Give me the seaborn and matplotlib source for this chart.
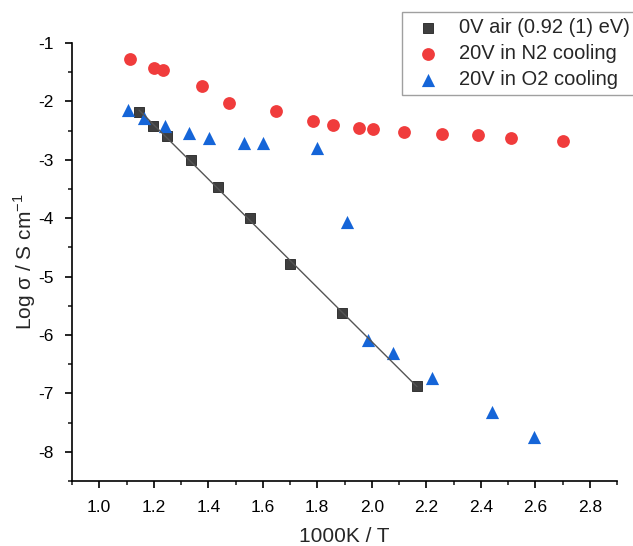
import numpy as np
import pandas as pd
import matplotlib
matplotlib.use('Agg')
import matplotlib.pyplot as plt
import seaborn as sns
from matplotlib.ticker import MultipleLocator

# Данные
air_x = [1.146, 1.197, 1.249, 1.336, 1.436, 1.553, 1.700, 1.890, 2.166]
air_y = [-2.18, -2.42, -2.59, -3.01, -3.47, -4.00, -4.78, -5.62, -6.87]

n2_x = [1.113, 1.200, 1.234, 1.377, 1.476, 1.649, 1.783, 1.858, 1.953, 2.005,
        2.118, 2.256, 2.390, 2.510, 2.700]
n2_y = [-1.27, -1.43, -1.46, -1.73, -2.03, -2.17, -2.34, -2.40, -2.45, -2.47,
        -2.52, -2.55, -2.58, -2.62, -2.67]

o2_x = [1.105, 1.164, 1.240, 1.329, 1.403, 1.531, 1.600, 1.800, 1.910, 1.986,
        2.078, 2.221, 2.440, 2.595]
o2_y = [-2.14, -2.29, -2.42, -2.54, -2.62, -2.71, -2.71, -2.79, -4.07, -6.09,
        -6.31, -6.74, -7.32, -7.75]

labels = ["0V air (0.92 (1) eV)", "20V in N2 cooling", "20V in O2 cooling"]

sns.set_style('ticks')
plt.rcParams['font.family'] = ['Liberation Sans', 'DejaVu Sans']
plt.rcParams['mathtext.fontset'] = 'custom'
plt.rcParams['mathtext.rm'] = 'Liberation Sans'

fig = plt.figure(figsize=(6.33, 5.46), dpi=100)
ax = fig.add_axes([72 / 633, 65 / 546, 545 / 633, 438 / 546])

air = pd.DataFrame({'x': air_x, 'y': air_y})
n2 = pd.DataFrame({'x': n2_x, 'y': n2_y})
o2 = pd.DataFrame({'x': o2_x, 'y': o2_y})

sns.scatterplot(data=air, x='x', y='y', ax=ax, marker='s', s=50, color='#3f3f3f',
                edgecolor='#222222', linewidth=0.6, label=labels[0], zorder=3)
sns.scatterplot(data=n2, x='x', y='y', ax=ax, marker='o', s=85, color='#f03c3c',
                edgecolor='#f03c3c', linewidth=0, label=labels[1], zorder=3)
sns.scatterplot(data=o2, x='x', y='y', ax=ax, marker='^', s=90, color='#1565d8',
                edgecolor='#1565d8', linewidth=0, label=labels[2], zorder=3)

# Линейная аппроксимация (Аррениус)
sns.regplot(data=air, x='x', y='y', ax=ax, scatter=False, ci=None, truncate=True,
            line_kws={'color': '#555555', 'lw': 1.0, 'zorder': 4})

ax.set_xlim(0.9, 2.9)
ax.set_ylim(-8.5, -1)
ax.xaxis.set_minor_locator(MultipleLocator(0.1))
ax.yaxis.set_minor_locator(MultipleLocator(0.5))
xt = np.arange(1.0, 2.81, 0.2)
yt = np.arange(-8, -0.9, 1)
ax.set_xticks(xt)
ax.set_xticklabels([f'{v:.1f}' for v in xt])
ax.set_yticks(yt)
ax.set_yticklabels([f'{int(v)}' for v in yt])

ax.tick_params(which='major', direction='out', length=5, width=1.2, labelsize=12.5,
               colors='black')
ax.tick_params(axis='x', which='major', pad=9)
ax.tick_params(axis='y', which='major', pad=8)
ax.tick_params(which='minor', direction='out', length=3, width=1.2)
for side in ['top', 'right']:
    ax.spines[side].set_visible(False)
for side in ['left', 'bottom']:
    ax.spines[side].set_linewidth(1.2)
    ax.spines[side].set_color('black')

ax.set_xlabel('1000K / T', fontsize=15, labelpad=8)
ax.set_ylabel('Log σ / S cm$^{-1}$', fontsize=15, labelpad=0)

leg = ax.legend(loc='upper left', bbox_to_anchor=(402 / 633, 1 - 12 / 546),
                bbox_transform=fig.transFigure, fontsize=14.5, frameon=True,
                fancybox=False, edgecolor='#888888', handletextpad=0.55,
                borderpad=0.3, labelspacing=0.35, handlelength=2.0,
                borderaxespad=0)
leg.get_frame().set_linewidth(1.0)

fig.savefig('out.png', dpi=100)
